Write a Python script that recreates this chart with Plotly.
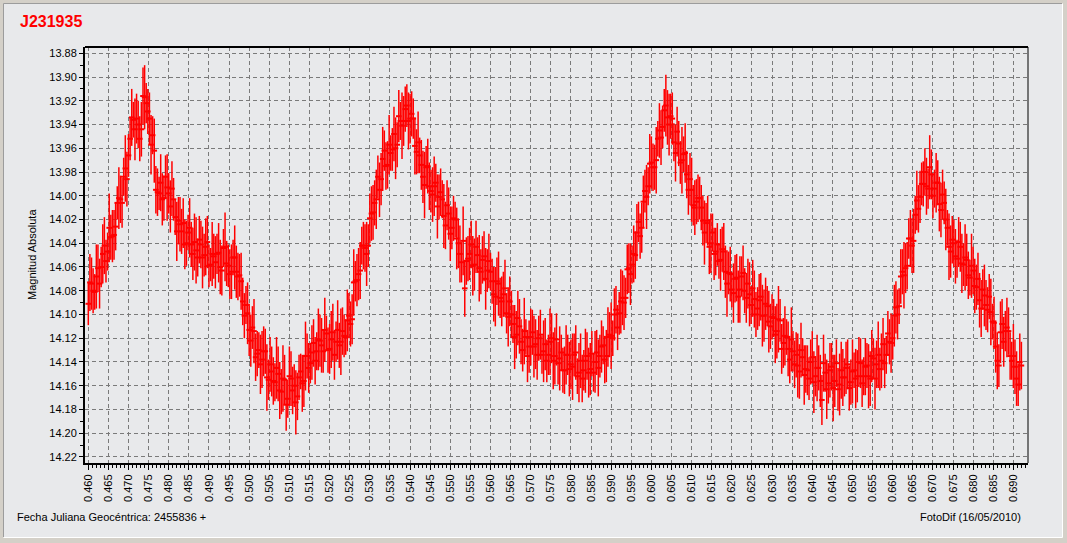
import plotly.graph_objects as go

# ---------------- data ----------------
TITLE = "J231935"
Y_LABEL = "Magnitud Absoluta"
X_LABEL = "Fecha Juliana Geocéntrica: 2455836 +"
CREDIT = "FotoDif (16/05/2010)"

T_START = 0.4600      # fraction of JD after 2455836 (series A)
T_START_B = 0.4604    # series B, interleaved exposures
CADENCE = 0.0008      # days between exposures of each series

magnitude = [
    14.091, 14.074, 14.081, 14.061, 14.060, 14.042, 14.047, 14.035, 14.033, 14.006,
    14.003, 13.984, 13.986, 13.952, 13.936, 13.935, 13.952, 13.916, 13.922, 13.935,
    13.949, 13.995, 13.998, 14.003, 13.984, 13.998, 13.994, 14.018, 14.021, 14.030,
    14.041, 14.031, 14.041, 14.039, 14.052, 14.041, 14.050, 14.039, 14.058, 14.051,
    14.049, 14.060, 14.044, 14.057, 14.066, 14.052, 14.064, 14.067, 14.089, 14.092,
    14.113, 14.111, 14.136, 14.130, 14.138, 14.131, 14.155, 14.148, 14.157, 14.150,
    14.165, 14.155, 14.171, 14.154, 14.160, 14.169, 14.148, 14.156, 14.135, 14.141,
    14.124, 14.131, 14.122, 14.131, 14.116, 14.129, 14.115, 14.123, 14.126, 14.114,
    14.119, 14.101, 14.104, 14.072, 14.066, 14.042, 14.044, 14.042, 14.015, 14.006,
    13.984, 13.986, 13.962, 13.974, 13.964, 13.948, 13.957, 13.937, 13.937, 13.924,
    13.935, 13.935, 13.963, 13.966, 13.984, 13.976, 13.992, 13.999, 13.989, 14.001,
    14.003, 14.025, 14.015, 14.027, 14.020, 14.040, 14.056, 14.078, 14.053, 14.041,
    14.058, 14.050, 14.064, 14.051, 14.063, 14.064, 14.083, 14.072, 14.086, 14.083,
    14.099, 14.089, 14.108, 14.117, 14.110, 14.130, 14.119, 14.127, 14.115, 14.125,
    14.120, 14.134, 14.125, 14.134, 14.120, 14.135, 14.141, 14.132, 14.147, 14.134,
    14.142, 14.134, 14.152, 14.139, 14.147, 14.135, 14.146, 14.149, 14.132, 14.135,
    14.126, 14.135, 14.117, 14.120, 14.096, 14.099, 14.086, 14.086, 14.061, 14.058,
    14.050, 14.022, 14.027, 13.996, 13.992, 13.972, 13.976, 13.952, 13.951, 13.928,
    13.934, 13.933, 13.955, 13.946, 13.972, 13.965, 13.982, 13.986, 14.008, 14.005,
    14.002, 14.021, 14.023, 14.043, 14.031, 14.047, 14.055, 14.045, 14.064, 14.065,
    14.079, 14.070, 14.085, 14.068, 14.080, 14.074, 14.092, 14.087, 14.095, 14.085,
    14.101, 14.093, 14.110, 14.103, 14.114, 14.105, 14.124, 14.119, 14.138, 14.131,
    14.134, 14.148, 14.136, 14.146, 14.154, 14.136, 14.152, 14.145, 14.172, 14.149,
    14.158, 14.144, 14.156, 14.163, 14.147, 14.153, 14.142, 14.157, 14.147, 14.152,
    14.141, 14.152, 14.143, 14.154, 14.137, 14.142, 14.146, 14.125, 14.134, 14.123,
    14.120, 14.094, 14.093, 14.064, 14.061, 14.036, 14.042, 14.016, 14.011, 13.990,
    13.980, 13.994, 13.982, 13.994, 13.989, 14.012, 14.006, 14.027, 14.047, 14.040,
    14.053, 14.043, 14.058, 14.054, 14.069, 14.063, 14.077, 14.088, 14.079, 14.092,
    14.085, 14.106, 14.127, 14.143, 14.108, 14.114, 14.114, 14.139, 14.144, 14.159,
    14.143,
]

mag_error = [
    0.018, 0.022, 0.015, 0.020, 0.017, 0.024, 0.016, 0.019, 0.021, 0.014,
    0.020, 0.016, 0.023, 0.018, 0.015, 0.021, 0.019, 0.024, 0.017, 0.022,
    0.016, 0.020, 0.014, 0.022, 0.018, 0.017, 0.023, 0.015, 0.020, 0.019,
    0.021, 0.015, 0.019, 0.024, 0.016, 0.020, 0.018, 0.022, 0.014, 0.019,
    0.017, 0.023, 0.016, 0.019, 0.021, 0.015, 0.022, 0.018, 0.020, 0.016,
    0.022, 0.018, 0.020, 0.015, 0.024, 0.019, 0.017, 0.021, 0.016, 0.023,
    0.019, 0.021, 0.016, 0.023, 0.018, 0.020, 0.015, 0.022, 0.019, 0.017,
    0.020, 0.016, 0.022, 0.018, 0.015, 0.021, 0.024, 0.017, 0.019, 0.020,
    0.015, 0.019, 0.021, 0.017, 0.022, 0.016, 0.020, 0.018, 0.023, 0.019,
    0.018, 0.022, 0.017, 0.020, 0.015, 0.023, 0.019, 0.016, 0.021, 0.018,
    0.021, 0.017, 0.019, 0.015, 0.022, 0.018, 0.020, 0.023, 0.016, 0.019,
    0.016, 0.020, 0.022, 0.018, 0.015, 0.021, 0.017, 0.024, 0.019, 0.020,
    0.022, 0.015, 0.019, 0.021, 0.018, 0.016, 0.023, 0.020, 0.017, 0.019,
    0.017, 0.021, 0.016, 0.020, 0.023, 0.018, 0.015, 0.022, 0.019, 0.021,
    0.019, 0.016, 0.022, 0.017, 0.021, 0.024, 0.018, 0.015, 0.020, 0.017,
    0.021, 0.018, 0.015, 0.023, 0.017, 0.020, 0.022, 0.016, 0.019, 0.018,
    0.016, 0.022, 0.019, 0.015, 0.020, 0.018, 0.023, 0.017, 0.021, 0.016,
    0.020, 0.017, 0.021, 0.018, 0.016, 0.022, 0.019, 0.015, 0.023, 0.018,
    0.023, 0.019, 0.016, 0.021, 0.018, 0.015, 0.020, 0.022, 0.017, 0.019,
    0.018, 0.021, 0.017, 0.023, 0.016, 0.020, 0.015, 0.019, 0.022, 0.018,
    0.015, 0.020, 0.022, 0.017, 0.019, 0.021, 0.016, 0.024, 0.018, 0.020,
    0.022, 0.017, 0.019, 0.016, 0.023, 0.018, 0.021, 0.015, 0.020, 0.017,
    0.019, 0.023, 0.016, 0.020, 0.018, 0.022, 0.017, 0.019, 0.021, 0.016,
    0.017, 0.020, 0.022, 0.018, 0.024, 0.016, 0.021, 0.019, 0.015, 0.022,
    0.021, 0.016, 0.019, 0.023, 0.017, 0.020, 0.018, 0.022, 0.016, 0.019,
    0.018, 0.022, 0.015, 0.019, 0.021, 0.017, 0.023, 0.016, 0.020, 0.018,
    0.020, 0.017, 0.021, 0.016, 0.019, 0.023, 0.018, 0.015, 0.022, 0.020,
    0.016, 0.021, 0.018, 0.022, 0.015, 0.020, 0.019, 0.023, 0.017, 0.021,
    0.019, 0.015, 0.022, 0.018, 0.021, 0.017, 0.020, 0.016, 0.023, 0.018,
    0.020,
]

magnitude_b = [
    14.073, 14.080, 14.068, 14.074, 14.049, 14.055, 14.027, 14.034, 14.026, 14.002,
    14.006, 13.977, 13.966, 13.934, 13.944, 13.940, 13.944, 13.917, 13.929, 13.957,
    13.962, 13.997, 13.989, 14.002, 13.993, 14.009, 14.003, 14.030, 14.024, 14.023,
    14.040, 14.027, 14.049, 14.046, 14.037, 14.052, 14.043, 14.059, 14.049, 14.056,
    14.048, 14.063, 14.043, 14.059, 14.064, 14.052, 14.068, 14.072, 14.101, 14.099,
    14.122, 14.114, 14.133, 14.142, 14.131, 14.153, 14.142, 14.156, 14.145, 14.164,
    14.154, 14.176, 14.152, 14.164, 14.174, 14.153, 14.158, 14.135, 14.145, 14.132,
    14.139, 14.121, 14.126, 14.113, 14.130, 14.121, 14.134, 14.113, 14.123, 14.118,
    14.105, 14.108, 14.073, 14.071, 14.063, 14.042, 14.049, 14.019, 14.014, 14.003,
    13.995, 13.969, 13.975, 13.957, 13.961, 13.960, 13.933, 13.941, 13.927, 13.937,
    13.931, 13.958, 13.955, 13.974, 13.991, 13.975, 13.996, 13.992, 14.009, 13.997,
    14.017, 14.008, 14.032, 14.019, 14.036, 14.049, 14.038, 14.055, 14.049, 14.059,
    14.043, 14.061, 14.054, 14.070, 14.055, 14.072, 14.085, 14.074, 14.089, 14.078,
    14.102, 14.100, 14.119, 14.103, 14.123, 14.114, 14.135, 14.119, 14.127, 14.134,
    14.117, 14.131, 14.139, 14.123, 14.139, 14.121, 14.137, 14.147, 14.134, 14.146,
    14.144, 14.132, 14.149, 14.154, 14.139, 14.149, 14.133, 14.140, 14.145, 14.127,
    14.138, 14.119, 14.118, 14.100, 14.111, 14.089, 14.090, 14.062, 14.066, 14.049,
    14.031, 14.034, 14.005, 14.001, 13.973, 13.976, 13.970, 13.945, 13.942, 13.924,
    13.940, 13.935, 13.964, 13.956, 13.970, 13.964, 13.995, 13.995, 14.010, 14.002,
    14.010, 14.031, 14.021, 14.040, 14.049, 14.041, 14.054, 14.047, 14.074, 14.066,
    14.082, 14.069, 14.079, 14.065, 14.086, 14.083, 14.078, 14.100, 14.088, 14.101,
    14.091, 14.106, 14.102, 14.117, 14.104, 14.129, 14.118, 14.129, 14.121, 14.142,
    14.143, 14.130, 14.151, 14.147, 14.140, 14.157, 14.145, 14.156, 14.141, 14.163,
    14.147, 14.162, 14.141, 14.159, 14.153, 14.145, 14.162, 14.148, 14.154, 14.140,
    14.158, 14.144, 14.152, 14.135, 14.154, 14.134, 14.139, 14.141, 14.116, 14.124,
    14.101, 14.100, 14.068, 14.067, 14.059, 14.036, 14.038, 14.004, 14.001, 13.990,
    13.992, 13.976, 14.000, 13.989, 14.007, 13.999, 14.020, 14.043, 14.037, 14.051,
    14.039, 14.057, 14.052, 14.067, 14.059, 14.076, 14.070, 14.095, 14.084, 14.096,
    14.098, 14.107, 14.139, 14.115, 14.123, 14.111, 14.135, 14.135, 14.154, 14.140,
]

mag_error_b = [
    0.024, 0.019, 0.027, 0.021, 0.025, 0.018, 0.029, 0.022, 0.020, 0.026,
    0.021, 0.028, 0.018, 0.024, 0.026, 0.020, 0.023, 0.027, 0.019, 0.025,
    0.027, 0.020, 0.024, 0.019, 0.028, 0.022, 0.018, 0.025, 0.023, 0.021,
    0.019, 0.025, 0.022, 0.028, 0.020, 0.026, 0.024, 0.018, 0.027, 0.022,
    0.025, 0.021, 0.029, 0.018, 0.023, 0.027, 0.020, 0.024, 0.019, 0.026,
    0.022, 0.027, 0.019, 0.025, 0.021, 0.028, 0.023, 0.020, 0.026, 0.024,
    0.028, 0.022, 0.025, 0.020, 0.027, 0.019, 0.024, 0.029, 0.021, 0.023,
    0.020, 0.026, 0.023, 0.027, 0.019, 0.024, 0.021, 0.025, 0.028, 0.018,
    0.026, 0.019, 0.028, 0.022, 0.024, 0.020, 0.027, 0.021, 0.023, 0.025,
    0.023, 0.027, 0.020, 0.025, 0.018, 0.026, 0.022, 0.028, 0.019, 0.024,
    0.019, 0.024, 0.026, 0.021, 0.028, 0.023, 0.018, 0.025, 0.027, 0.020,
    0.027, 0.021, 0.023, 0.019, 0.026, 0.024, 0.029, 0.020, 0.022, 0.025,
    0.022, 0.028, 0.020, 0.026, 0.023, 0.019, 0.025, 0.027, 0.021, 0.024,
    0.025, 0.020, 0.027, 0.023, 0.019, 0.028, 0.022, 0.024, 0.026, 0.021,
    0.021, 0.026, 0.018, 0.028, 0.024, 0.022, 0.027, 0.019, 0.025, 0.023,
    0.028, 0.023, 0.025, 0.020, 0.027, 0.021, 0.019, 0.026, 0.024, 0.022,
    0.020, 0.025, 0.028, 0.022, 0.019, 0.027, 0.023, 0.021, 0.026, 0.024,
    0.024, 0.019, 0.022, 0.027, 0.025, 0.020, 0.028, 0.023, 0.018, 0.026,
    0.026, 0.022, 0.024, 0.019, 0.028, 0.025, 0.021, 0.027, 0.023, 0.020,
    0.019, 0.027, 0.021, 0.025, 0.022, 0.018, 0.026, 0.024, 0.028, 0.023,
    0.025, 0.020, 0.028, 0.023, 0.021, 0.027, 0.024, 0.019, 0.022, 0.026,
    0.022, 0.026, 0.019, 0.024, 0.028, 0.021, 0.025, 0.023, 0.027, 0.020,
    0.027, 0.023, 0.025, 0.021, 0.019, 0.026, 0.028, 0.022, 0.024, 0.025,
    0.023, 0.028, 0.020, 0.026, 0.024, 0.022, 0.019, 0.027, 0.025, 0.021,
    0.020, 0.024, 0.027, 0.022, 0.026, 0.028, 0.023, 0.021, 0.019, 0.025,
    0.026, 0.021, 0.023, 0.028, 0.020, 0.024, 0.027, 0.025, 0.022, 0.019,
    0.024, 0.027, 0.019, 0.025, 0.023, 0.021, 0.026, 0.028, 0.020, 0.023,
    0.021, 0.025, 0.028, 0.020, 0.027, 0.023, 0.022, 0.024, 0.026, 0.019,
    0.028, 0.022, 0.024, 0.026, 0.021, 0.025, 0.020, 0.027, 0.023, 0.024,
]

jd_a = [round(T_START + CADENCE * i, 4) for i in range(len(magnitude))]
jd_b = [round(T_START_B + CADENCE * i, 4) for i in range(len(magnitude_b))]

X_RANGE = [0.45918, 0.69364]
Y_RANGE = [14.2251, 13.8747]   # magnitudes: reversed axis

# ---------------- layout geometry ----------------
W, H = 1067, 543
ML, MR, MT, MB = 85, 39, 47, 80
PW = W - ML - MR
PH = H - MT - MB


def px(xp):
    return (xp - ML) / PW


def py(yp):
    return (H - MB - yp) / PH


RED = "#FF0000"
FONT = "Liberation Sans, Arial, sans-serif"
BG = "#E8E9EB"

fig = go.Figure()
for xs, ys, es in ((jd_a, magnitude, mag_error), (jd_b, magnitude_b, mag_error_b)):
    fig.add_trace(go.Scatter(
        x=xs, y=ys, mode="markers",
        error_y=dict(type="data", array=es, visible=True,
                     color=RED, thickness=1.5, width=0),
        marker=dict(symbol="line-ew", size=4, color=RED,
                    line=dict(width=2, color=RED)),
        hoverinfo="x+y", showlegend=False,
    ))

shapes = [
    # window panel (sunken frame)
    dict(type="rect", xref="paper", yref="paper", layer="below",
         x0=px(3.5), x1=px(1062), y0=py(537), y1=py(3.5),
         fillcolor=BG, line=dict(width=0)),
    dict(type="line", xref="paper", yref="paper", layer="below",
         x0=px(3.5), x1=px(1062), y0=py(3.5), y1=py(3.5),
         line=dict(color="#9C9C9C", width=1)),
    dict(type="line", xref="paper", yref="paper", layer="below",
         x0=px(3.5), x1=px(3.5), y0=py(3.5), y1=py(537),
         line=dict(color="#9C9C9C", width=1)),
    dict(type="line", xref="paper", yref="paper", layer="below",
         x0=px(3.5), x1=px(1062.5), y0=py(537.5), y1=py(537.5),
         line=dict(color="#FFFFFF", width=1)),
    dict(type="line", xref="paper", yref="paper", layer="below",
         x0=px(1062.5), x1=px(1062.5), y0=py(3.5), y1=py(537.5),
         line=dict(color="#FFFFFF", width=1)),
    # plot frame: top thick, right thin
    dict(type="line", xref="paper", yref="paper",
         x0=0, x1=1, y0=1, y1=1, line=dict(color="black", width=2)),
    dict(type="line", xref="paper", yref="paper",
         x0=1, x1=1, y0=0, y1=1, line=dict(color="black", width=1)),
]

annotations = [
    dict(text=TITLE, xref="paper", yref="paper", x=px(18), y=py(21),
         xanchor="left", yanchor="middle", showarrow=False,
         font=dict(family=FONT, size=16, color=RED, weight="bold")),
    dict(text=Y_LABEL, xref="paper", yref="paper", x=px(32), y=py(255),
         xanchor="center", yanchor="middle", textangle=-90, showarrow=False,
         font=dict(family=FONT, size=11, color="black")),
    dict(text=X_LABEL, xref="paper", yref="paper", x=px(15), y=py(517),
         xanchor="left", yanchor="middle", showarrow=False,
         font=dict(family=FONT, size=11, color="black")),
    dict(text=CREDIT, xref="paper", yref="paper", x=px(1023), y=py(517),
         xanchor="right", yanchor="middle", showarrow=False,
         font=dict(family=FONT, size=11, color="black")),
]

fig.update_layout(
    width=W, height=H,
    margin=dict(l=ML, r=MR, t=MT, b=MB, pad=0),
    paper_bgcolor="#D4D0C8", plot_bgcolor=BG,
    font=dict(family=FONT, size=11, color="black"),
    shapes=shapes, annotations=annotations, showlegend=False,
    xaxis=dict(range=X_RANGE, dtick=0.005, tick0=0.46, tickformat=".3f",
               tickangle=-90, ticks="outside", ticklen=5, tickcolor="black",
               showline=True, linecolor="black", linewidth=2,
               showgrid=True, gridcolor="#7A7A7A", griddash="4px,3px",
               gridwidth=1, zeroline=False,
               minor=dict(dtick=0.001, ticks="outside", ticklen=3,
                          tickcolor="black", showgrid=False),
               tickfont=dict(family=FONT, size=11, color="black")),
    yaxis=dict(range=Y_RANGE, dtick=0.02, tick0=13.88, tickformat=".2f",
               ticks="outside", ticklen=4, tickcolor="black",
               showline=True, linecolor="black", linewidth=2,
               showgrid=True, gridcolor="#7A7A7A", griddash="4px,3px",
               gridwidth=1, zeroline=False,
               minor=dict(dtick=0.01, ticks="outside", ticklen=3,
                          tickcolor="black", showgrid=False),
               tickfont=dict(family=FONT, size=11, color="black")),
)

fig.write_html(
    "out.html",
    config={"displayModeBar": False},
    post_script="document.body.style.margin='0';"
                "document.body.style.background='#D4D0C8';",
)
